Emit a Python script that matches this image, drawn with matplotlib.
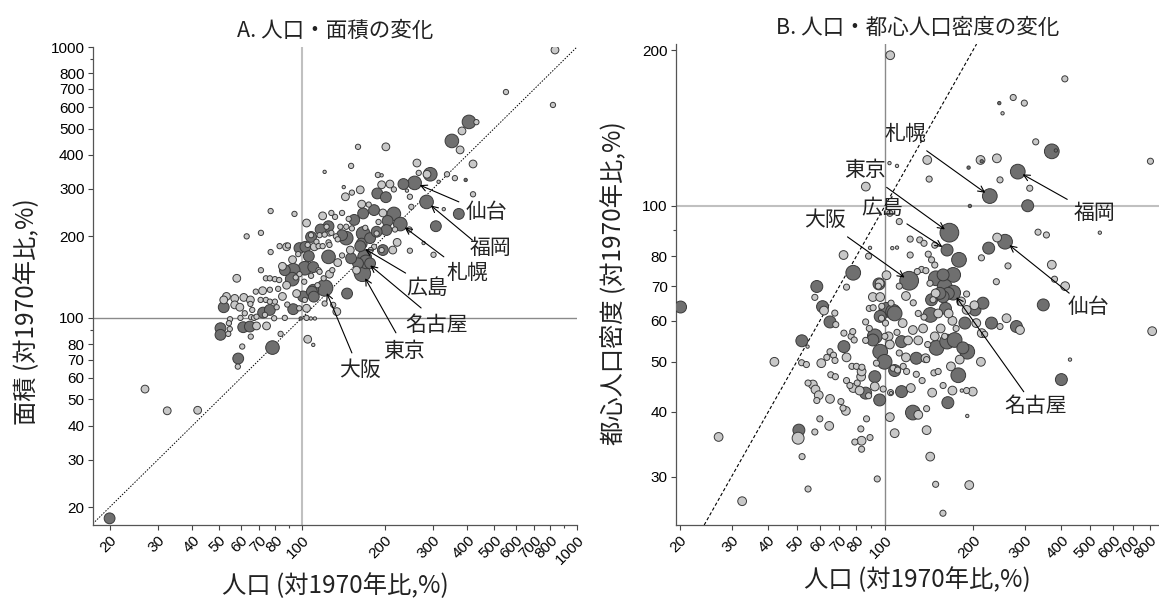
import matplotlib
matplotlib.use('Agg')

import matplotlib.pyplot as plt
from matplotlib.ticker import NullFormatter

plt.rcParams['font.family'] = ['Noto Sans CJK JP', 'DejaVu Sans']

# ---- named cities (population, area, central density; % of 1970) ----
cities = ['東京', '大阪', '名古屋', '広島', '札幌', '仙台', '福岡']
city_pop = [166, 121, 171, 163, 228, 257, 284]
city_area = [146, 129, 161, 184, 222, 315, 268]
city_density = [88.8, 71.7, 68, 82.2, 104.5, 85.3, 116.5]
city_cls = [6, 6, 5, 4, 5, 5, 5]

# ---- A: other cities, population vs area ----
pop_a = [
    832, 552, 818, 405, 431, 382, 351, 376, 419, 160,
    202, 151, 121, 262, 293, 285, 266, 337, 360, 394,
    314, 419, 189, 195, 234, 209, 195, 216, 163, 142,
    188, 202, 144, 152, 247, 241, 372, 328, 250, 307,
    165, 140, 175, 183, 197, 216, 205, 246, 218, 277,
    301, 247, 214, 195, 119, 104, 94, 77, 71, 63,
    98, 88, 83, 89, 77, 58, 71, 125, 108, 113,
    126, 133, 117, 123, 138, 145, 152, 145, 135, 125,
    115, 140, 165, 177, 187, 203, 197, 222, 169, 160,
    177, 110, 103, 125, 151, 167, 187, 190, 167, 155,
    148, 132, 128, 108, 116, 121, 128, 105, 111, 119,
    126, 106, 97, 102.5, 115, 92.5, 93, 98, 108, 116,
    102, 95, 110, 95.7, 101, 88, 82, 129, 135, 140,
    146, 134, 130, 108.7, 114, 120, 126, 150, 158, 183,
    170, 178, 86.7, 85, 92.2, 74, 76.5, 79.8, 82.7, 68,
    72, 76.5, 53.2, 57, 61.5, 65, 65, 52, 52, 57,
    59.5, 70.8, 74, 76.5, 72.3, 76.5, 79.8, 81, 93, 97.8,
    104, 110.5, 102.5, 54.8, 59.8, 65.4, 67, 68.4, 73.4, 79.3,
    86.7, 99, 104, 107.8, 111.5, 50.6, 50.6, 54.3, 54.7, 54,
    61.2, 64.7, 68.4, 74.4, 65.2, 83.7, 105, 110, 60.7, 78.2,
    58.7, 58.5, 26.9, 32.4, 41.8, 20, 121, 88.5, 85, 66,
    62,
]
area_a = [
    975, 682, 611, 529, 528, 490, 450, 417, 370, 428,
    428, 364, 346, 373, 339, 339, 343, 339, 328, 323,
    318, 286, 337, 336, 312, 312, 310, 298, 297, 304,
    288, 279, 280, 290, 280, 295, 242, 252, 257, 218,
    263, 244, 262, 250, 244, 242, 228, 212, 212, 189,
    171, 177, 178, 178, 238, 224, 242, 248, 206, 200,
    181, 183, 184, 185, 175, 140, 150, 218, 199, 191,
    205, 200, 212, 217, 217, 217, 214, 197, 195, 190,
    184, 202, 188, 197, 205, 211, 178, 190, 168, 159,
    159, 154, 183, 168, 166, 205, 208, 226, 243, 230,
    232, 236, 244, 202, 202, 203, 206, 186, 183, 184,
    186, 169, 172, 152.5, 150, 164, 150, 145, 143, 148,
    136, 141, 127, 123, 120, 132, 128, 150, 160, 170,
    123, 105.5, 111.7, 125, 132, 140, 145, 178, 150, 183,
    215, 178, 150, 155, 139, 140, 140, 139, 138, 125,
    126, 127, 120, 118, 119, 116.5, 112.6, 116.5, 109.5, 111.7,
    109.5, 116.5, 116.5, 114.8, 104.6, 107, 114.8, 109.5, 107.7, 108.5,
    108.5, 119.8, 116.5, 98.9, 100, 100.6, 100, 101, 102.6, 99.7,
    100, 99.5, 100, 99.5, 99.5, 91.6, 86.6, 95.6, 91, 87.3,
    92.4, 92.9, 93.4, 93.4, 85.3, 87.3, 83.4, 79.5, 78.4, 77.7,
    70.8, 66.1, 54.6, 45.4, 45.6, 18.2, 113, 112, 120, 107,
    104,
]
cls_a = [
    3, 2, 2, 5, 2, 3, 5, 3, 3, 2,
    3, 2, 1, 3, 5, 3, 2, 2, 2, 1,
    1, 2, 2, 1, 4, 3, 3, 2, 3, 1,
    4, 4, 3, 2, 2, 1, 4, 1, 2, 4,
    3, 2, 2, 4, 3, 5, 4, 2, 2, 1,
    2, 2, 3, 2, 3, 3, 2, 2, 2, 2,
    4, 3, 2, 2, 2, 3, 2, 4, 4, 2,
    2, 2, 4, 2, 2, 2, 2, 5, 2, 2,
    2, 4, 4, 4, 2, 4, 4, 3, 5, 4,
    4, 4, 4, 5, 4, 5, 4, 2, 4, 4,
    2, 2, 2, 2, 2, 2, 2, 2, 3, 2,
    2, 4, 2, 5, 2, 3, 5, 2, 2, 2,
    2, 2, 4, 3, 4, 3, 2, 2, 3, 2,
    4, 3, 2, 4, 2, 2, 3, 3, 3, 2,
    2, 2, 4, 3, 5, 2, 2, 2, 2, 2,
    3, 2, 3, 3, 3, 3, 2, 3, 4, 3,
    3, 2, 2, 2, 4, 4, 2, 2, 4, 2,
    3, 4, 2, 2, 2, 2, 2, 2, 2, 2,
    2, 1, 2, 1, 1, 4, 4, 2, 2, 2,
    4, 4, 3, 3, 2, 2, 3, 1, 2, 5,
    4, 2, 3, 3, 3, 4, 2, 2, 3, 2,
    2,
]
grp_a = [
    0, 0, 0, 1, 0, 0, 1, 0, 0, 0,
    0, 0, 0, 0, 1, 0, 0, 0, 0, 1,
    0, 0, 0, 0, 1, 0, 0, 0, 0, 0,
    1, 1, 0, 0, 0, 0, 1, 0, 0, 1,
    0, 0, 0, 1, 0, 1, 1, 0, 0, 0,
    0, 0, 0, 0, 0, 0, 0, 0, 0, 0,
    1, 0, 0, 0, 0, 0, 0, 1, 1, 0,
    0, 0, 1, 0, 0, 0, 0, 1, 0, 0,
    0, 1, 1, 1, 0, 1, 1, 0, 1, 1,
    1, 1, 1, 1, 1, 1, 1, 0, 1, 1,
    0, 0, 0, 0, 0, 0, 0, 0, 0, 0,
    0, 1, 0, 1, 0, 0, 1, 0, 0, 0,
    0, 0, 1, 0, 1, 0, 0, 0, 0, 0,
    1, 0, 0, 1, 0, 0, 0, 0, 0, 0,
    0, 0, 1, 0, 1, 0, 0, 0, 0, 0,
    0, 0, 0, 0, 0, 0, 0, 0, 1, 0,
    0, 0, 0, 0, 1, 1, 0, 0, 1, 0,
    0, 1, 0, 0, 0, 0, 0, 0, 0, 0,
    0, 1, 0, 0, 0, 1, 1, 0, 0, 0,
    1, 1, 0, 0, 0, 0, 0, 0, 0, 1,
    1, 0, 0, 0, 0, 1, 0, 0, 0, 0,
    0,
]

# ---- B: other cities, population vs central population density ----
pop_b = [
    104.3, 411, 274, 299, 245.6, 252, 327, 371, 383, 805,
    212, 214, 241, 193, 247, 312, 307, 195, 139.5, 141.6,
    103.7, 110, 86.1, 104, 112, 333, 355.6, 541, 241.5, 226,
    179, 122, 131.5, 136, 148, 106, 110, 89, 72.3, 88,
    122, 140.6, 144.3, 148, 213.5, 263, 371, 379, 412, 240,
    78, 101.3, 96, 133.4, 138, 129, 142.5, 149.3, 158, 171,
    160, 164.6, 158, 149, 146, 144.3, 190, 182, 190, 203,
    202, 216, 187.5, 205, 231, 214, 247, 260, 281, 289,
    347, 400, 428, 816, 58.6, 74, 95.5, 57.7, 61.3, 62,
    67.5, 65, 68, 20.1, 27.1, 32.6, 42, 52.1, 54.5, 52,
    54, 60.7, 63.4, 65, 66.8, 67.6, 65.4, 67.8, 54.7, 56.8,
    58, 59.5, 58.6, 65, 70.8, 72, 73.6, 60, 64.6, 50.9,
    50.6, 57.7, 52.2, 54.7, 72.5, 76.7, 77.7, 78.6, 72.5, 74,
    77.2, 80, 74, 76, 78, 80.5, 82, 83.5, 83, 86,
    88, 96, 92.4, 92.4, 98.7, 104.6, 93.6, 91, 96.4, 103,
    92.4, 86, 88.5, 86, 88.5, 91, 95, 96.4, 101.3, 106.7,
    100.5, 97.6, 96.4, 105, 91.2, 97.4, 83.3, 86.6, 82.8, 79,
    83.3, 89, 83.3, 94.2, 104, 108, 105, 99.8, 108, 106.7,
    110.5, 115.5, 118.6, 114, 124.6, 115, 108, 110, 120, 128,
    137.6, 128, 122.6, 114, 124.6, 130, 138.8, 138.8, 142.8, 149,
    157.8, 194, 191, 145, 164, 150, 147, 152, 148, 136,
    143, 152, 161, 154, 163, 173, 184.5, 191, 168, 178,
    180, 212.6, 199.4, 183, 190, 138.8, 219, 155, 160, 170,
    175, 165, 135, 130, 125, 118, 112, 130, 140, 118,
    112, 104, 100, 158, 170, 134,
]
dens_b = [
    195.5, 176, 162, 158, 158, 151, 133, 127.5, 128, 122,
    122.7, 122, 123.6, 118.6, 112.3, 108.2, 100.1, 100, 122.7, 112.7,
    121, 119.5, 109, 96.8, 93.3, 89, 87.9, 88.8, 86.9, 82.9,
    78.7, 86.3, 86, 84.7, 84, 82.9, 83.1, 83, 80.4, 80,
    80.4, 80.7, 78.7, 76.9, 79.4, 76.6, 77, 72.2, 70, 71.4,
    74.3, 73.5, 70.9, 75.4, 75, 74.7, 70.9, 72.5, 73.6, 73.6,
    69.9, 67.8, 66.8, 67.8, 65.9, 65.9, 67.6, 65.4, 63, 63,
    64.3, 64.9, 59.4, 59.4, 59.4, 56.8, 58.5, 60.7, 58.5, 57.6,
    64.4, 46.2, 50.5, 57.3, 69.9, 69.7, 70.7, 66.6, 63.9, 62.8,
    62.1, 59.7, 59, 63.8, 35.8, 26.9, 50, 54.9, 53.5, 49.8,
    49.4, 49.7, 51, 52.3, 51.5, 50.3, 47.2, 46.8, 45.5, 45.2,
    44.2, 43.1, 42.1, 42.4, 41.9, 40.7, 40.2, 38.8, 37.6, 36.9,
    35.6, 36.6, 32.8, 28.4, 56.8, 56, 57.2, 55.1, 53.5, 51,
    49, 49, 46, 45, 44.5, 45.5, 44, 48.8, 46.8, 43.5,
    43, 42.2, 46.8, 44.8, 44.3, 43.6, 49.7, 55.1, 52.3, 56,
    56, 55, 58, 59.7, 63.4, 66.7, 70, 61.2, 63, 62.5,
    59.4, 64, 66.7, 64.9, 63.6, 60.7, 47.9, 38.8, 37.1, 35,
    35.2, 35.7, 33.9, 29.7, 39.1, 36.4, 43.5, 50, 48.1, 48.6,
    48.2, 49, 47.9, 54.7, 57.6, 59.4, 62, 57, 55, 50.8,
    50.8, 47.3, 44.5, 43.8, 39.9, 39.5, 40.6, 36.9, 32.8, 29,
    25.5, 28.9, 39.3, 43.6, 41.7, 53.2, 47.6, 47.9, 56, 61,
    61.6, 62, 63.4, 67.8, 54.7, 55.1, 53.2, 52.3, 49, 47.1,
    50.5, 50, 43.8, 44, 44, 50.5, 56.5, 58, 56, 60,
    58, 62, 58, 62, 65, 67, 70, 55, 54, 51,
    52, 54, 56, 45, 44, 46,
]
cls_b = [
    3, 2, 2, 2, 1, 1, 2, 5, 1, 2,
    3, 1, 3, 1, 2, 2, 4, 1, 3, 2,
    1, 1, 3, 2, 2, 2, 2, 1, 3, 4,
    5, 2, 2, 2, 2, 1, 1, 1, 3, 2,
    2, 2, 2, 2, 2, 2, 3, 2, 3, 2,
    5, 3, 3, 2, 2, 2, 2, 5, 4, 5,
    5, 4, 4, 3, 2, 4, 2, 3, 3, 4,
    3, 4, 4, 3, 4, 3, 2, 3, 4, 3,
    4, 4, 1, 3, 4, 2, 4, 2, 4, 3,
    2, 4, 2, 4, 3, 3, 3, 4, 1, 2,
    2, 3, 2, 2, 2, 2, 2, 2, 2, 3,
    3, 3, 2, 3, 2, 2, 3, 2, 3, 4,
    4, 2, 2, 2, 2, 2, 2, 2, 4, 3,
    2, 2, 2, 2, 3, 2, 3, 2, 3, 4,
    2, 4, 4, 3, 2, 2, 2, 4, 5, 3,
    5, 2, 2, 2, 2, 3, 2, 4, 5, 5,
    2, 2, 3, 2, 2, 2, 3, 2, 2, 2,
    3, 2, 2, 2, 3, 3, 1, 5, 4, 2,
    2, 2, 2, 4, 3, 3, 5, 2, 3, 4,
    3, 2, 3, 4, 5, 3, 2, 3, 3, 2,
    2, 3, 1, 3, 4, 5, 2, 2, 3, 2,
    5, 3, 4, 4, 5, 5, 4, 5, 3, 5,
    3, 3, 3, 1, 2, 2, 2, 3, 2, 3,
    2, 3, 3, 2, 2, 3, 2, 3, 2, 3,
    2, 3, 2, 2, 3, 2,
]
grp_b = [
    0, 0, 0, 0, 1, 0, 0, 1, 1, 0,
    0, 1, 0, 1, 0, 0, 1, 1, 0, 0,
    0, 0, 0, 0, 0, 0, 0, 0, 0, 1,
    1, 0, 0, 0, 0, 0, 0, 0, 0, 0,
    0, 0, 0, 0, 0, 0, 0, 0, 0, 0,
    1, 0, 0, 0, 0, 0, 0, 1, 1, 1,
    1, 1, 1, 0, 0, 1, 0, 0, 0, 1,
    0, 1, 1, 0, 1, 0, 0, 0, 1, 0,
    1, 1, 0, 0, 1, 0, 1, 0, 1, 0,
    0, 1, 0, 1, 0, 0, 0, 1, 0, 0,
    0, 0, 0, 0, 0, 0, 0, 0, 0, 0,
    0, 0, 0, 0, 0, 0, 0, 0, 0, 1,
    0, 0, 0, 0, 0, 0, 0, 0, 1, 0,
    0, 0, 0, 0, 0, 0, 0, 0, 0, 1,
    0, 1, 1, 0, 0, 0, 0, 1, 1, 0,
    1, 0, 0, 0, 0, 0, 0, 1, 1, 1,
    0, 0, 0, 0, 0, 0, 0, 0, 0, 0,
    0, 0, 0, 0, 0, 0, 0, 1, 1, 0,
    0, 0, 0, 1, 0, 0, 1, 0, 0, 1,
    0, 0, 0, 1, 1, 0, 0, 0, 0, 0,
    0, 0, 0, 0, 1, 1, 0, 0, 0, 0,
    1, 0, 1, 1, 1, 1, 1, 1, 0, 1,
    0, 0, 0, 0, 0, 0, 0, 0, 0, 0,
    0, 0, 0, 0, 0, 0, 0, 0, 0, 0,
    0, 0, 0, 0, 0, 0,
]

ticks_a = [20, 30, 40, 50, 60, 70, 80, 100, 200, 300, 400, 500, 600, 700, 800, 1000]
ticks_bx = [20, 30, 40, 50, 60, 70, 80, 100, 200, 300, 400, 500, 600, 700, 800]
ticks_by = [30, 40, 50, 60, 70, 80, 100, 200]

# label placement: text centre and arrow start, in axes fraction
label_a = {
    '仙台': (0.814, 0.655, 0.756, 0.676),
    '福岡': (0.822, 0.579, 0.784, 0.596),
    '札幌': (0.773, 0.527, 0.725, 0.561),
    '広島': (0.690, 0.496, 0.646, 0.527),
    '名古屋': (0.711, 0.418, 0.678, 0.454),
    '東京': (0.643, 0.364, 0.626, 0.402),
    '大阪': (0.552, 0.324, 0.535, 0.360),
}
label_b = {
    '札幌': (0.474, 0.813, 0.519, 0.778),
    '東京': (0.391, 0.738, 0.436, 0.702),
    '広島': (0.427, 0.659, 0.478, 0.626),
    '大阪': (0.308, 0.634, 0.355, 0.599),
    '福岡': (0.867, 0.649, 0.810, 0.677),
    '仙台': (0.853, 0.453, 0.814, 0.482),
    '名古屋': (0.745, 0.247, 0.720, 0.277),
}

DARK = '#6f6f6f'
LIGHT = '#c8c8c8'
EDGE = '#3a3a3a'
TICK_FONT = 'Liberation Sans'
size_a = {1: 2.4, 2: 3.8, 3: 5.6, 4: 7.8, 5: 9.8, 6: 11.8}
size_b = {1: 2.4, 2: 4.4, 3: 6.3, 4: 8.6, 5: 10.6, 6: 13.5}


def scatter_cities(ax, xs, ys, cls, grp, sizes):
    # big markers first so the small ones stay visible on top
    order = sorted(range(len(xs)), key=lambda i: -cls[i])
    ax.scatter([xs[i] for i in order], [ys[i] for i in order],
               s=[sizes[cls[i]] ** 2 for i in order],
               c=[DARK if grp[i] else LIGHT for i in order],
               edgecolors=EDGE, linewidths=0.7, zorder=3)


def style_axes(ax, xticks, yticks, xminor, yminor):
    ax.set_xscale('log')
    ax.set_yscale('log')
    ax.set_xticks(xticks)
    ax.set_xticklabels([str(t) for t in xticks], rotation=45, ha='right', va='top',
                       rotation_mode='anchor', fontfamily=TICK_FONT, fontsize=11)
    ax.set_yticks(yticks)
    ax.set_yticklabels([str(t) for t in yticks], fontfamily=TICK_FONT, fontsize=11)
    ax.set_xticks(xminor, minor=True)
    ax.set_yticks(yminor, minor=True)
    ax.xaxis.set_minor_formatter(NullFormatter())
    ax.yaxis.set_minor_formatter(NullFormatter())
    ax.tick_params(which='major', length=3.5, width=0.8, color='#444', pad=2.5)
    ax.tick_params(which='minor', length=2, width=0.8, color='#444')
    for side in ['top', 'right']:
        ax.spines[side].set_visible(False)
    for side in ['left', 'bottom']:
        ax.spines[side].set_color('#555')
        ax.spines[side].set_linewidth(0.9)


def label_cities(ax, xs, ys, placement):
    for name, x, y in zip(cities, xs, ys):
        tx, ty, sx, sy = placement[name]
        ax.text(tx, ty, name, transform=ax.transAxes, ha='center', va='center',
                fontsize=15, color='#222')
        ax.annotate('', xy=(x, y), xytext=(sx, sy), textcoords='axes fraction',
                    arrowprops=dict(arrowstyle='->', lw=0.8, color='black',
                                    shrinkA=0, shrinkB=4, mutation_scale=11),
                    zorder=4)


fig = plt.figure(figsize=(11.59, 5.98), dpi=100)

# ---------- A ----------
ax = fig.add_axes([0.0802, 0.1221, 0.4176, 0.7993])
style_axes(ax, ticks_a, ticks_a, [90, 900], [90, 900])
ax.set_xlim(17.4, 1000)
ax.set_ylim(17.2, 1000)
ax.axvline(100, color='#c0c0c0', lw=1.5, zorder=1)
ax.axhline(100, color='#8a8a8a', lw=1.0, zorder=1)
ax.axline((20, 20), (500, 500), color='black', lw=0.7, ls=(0, (1.5, 1.5)), zorder=2)
scatter_cities(ax, pop_a + city_pop, area_a + city_area,
               cls_a + city_cls, grp_a + [1] * len(cities), size_a)
label_cities(ax, city_pop, city_area, label_a)
ax.set_title('A. 人口・面積の変化', fontsize=15.5, pad=7, color='#222')
ax.set_xlabel('人口 (対1970年比,%)', fontsize=17.5, color='#222', labelpad=4)
ax.set_ylabel('面積 (対1970年比,%)', fontsize=17.5, color='#222')
ax.yaxis.set_label_coords(-0.11, 0.446)

# ---------- B ----------
ax = fig.add_axes([0.5833, 0.1221, 0.4167, 0.8043])
style_axes(ax, ticks_bx, ticks_by, [90], [90])
ax.set_xlim(19.4, 861)
ax.set_ylim(24.2, 205.5)
ax.axvline(100, color='#8a8a8a', lw=1.0, zorder=1)
ax.axhline(100, color='#c0c0c0', lw=1.5, zorder=1)
ax.axline((30, 30), (150, 150), color='black', lw=0.8, ls=(0, (3, 2)), zorder=2)
scatter_cities(ax, pop_b + city_pop, dens_b + city_density,
               cls_b + city_cls, grp_b + [1] * len(cities), size_b)
label_cities(ax, city_pop, city_density, label_b)
ax.set_title('B. 人口・都心人口密度の変化', fontsize=15.5, pad=7, color='#222')
ax.set_xlabel('人口 (対1970年比,%)', fontsize=17.5, color='#222', labelpad=4)
ax.set_ylabel('都心人口密度 (対1970年比,%)', fontsize=17.5, color='#222')
ax.yaxis.set_label_coords(-0.102, 0.503)

fig.savefig('out.png', dpi=100)
